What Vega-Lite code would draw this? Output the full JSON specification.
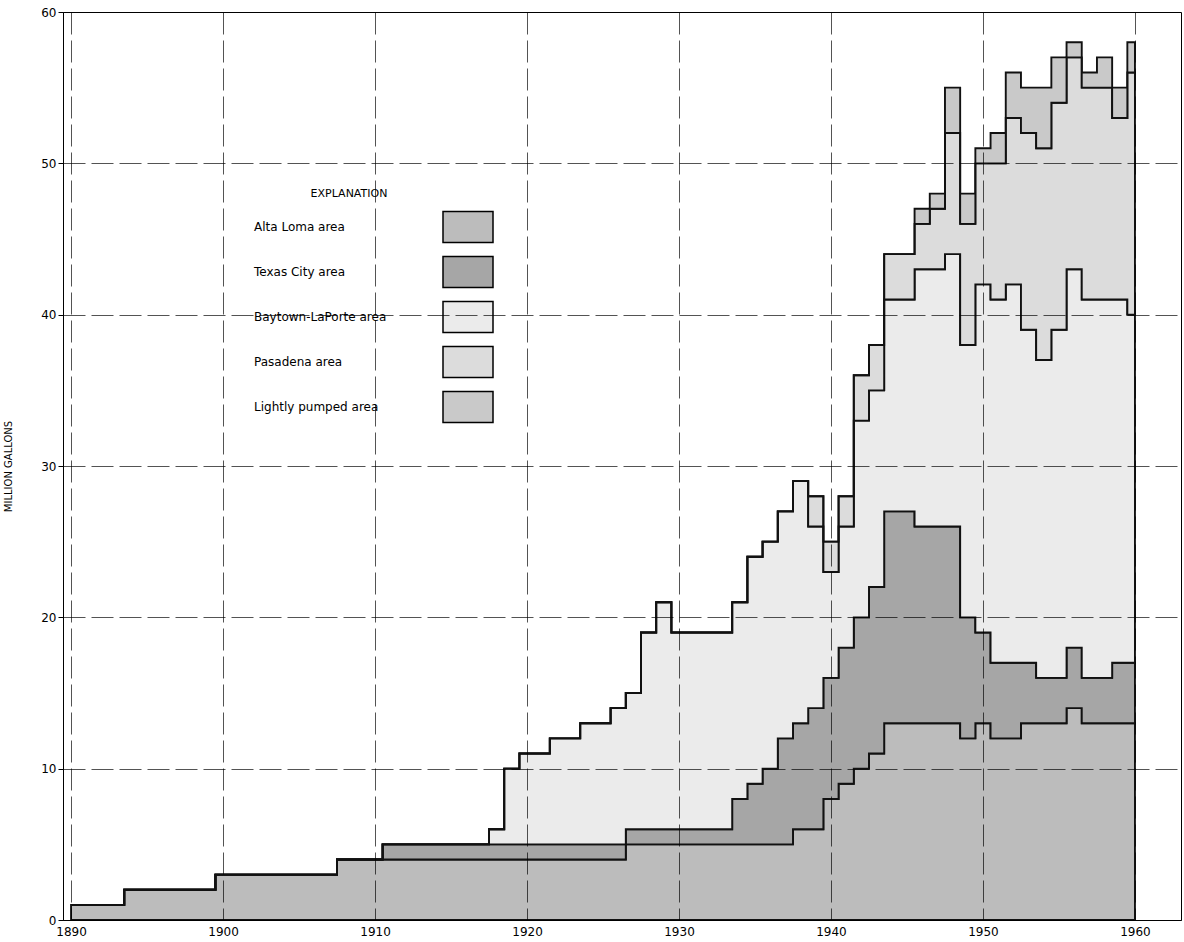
{
  "$schema": "https://vega.github.io/schema/vega-lite/v6.json",
  "width": 1118,
  "height": 908,
  "autosize": {"type": "none"},
  "padding": {"left": 63, "top": 12, "right": 3, "bottom": 22},
  "background": "white",
  "config": {
    "view": {"stroke": "#000", "strokeWidth": 1},
    "font": "DejaVu Sans"
  },
  "datasets": {
    "series": [
      {"area": "alta", "rank": 1, "label": "Alta Loma area"},
      {"area": "texas", "rank": 2, "label": "Texas City area"},
      {"area": "baytown", "rank": 3, "label": "Baytown-LaPorte area"},
      {"area": "pasadena", "rank": 4, "label": "Pasadena area"},
      {"area": "light", "rank": 5, "label": "Lightly pumped area"}
    ],
    "pumpage": [
      {"year": 1890, "alta": 1, "texas": 0, "baytown": 0, "pasadena": 0, "light": 0},
      {"year": 1891, "alta": 1, "texas": 0, "baytown": 0, "pasadena": 0, "light": 0},
      {"year": 1892, "alta": 1, "texas": 0, "baytown": 0, "pasadena": 0, "light": 0},
      {"year": 1893, "alta": 1, "texas": 0, "baytown": 0, "pasadena": 0, "light": 0},
      {"year": 1894, "alta": 2, "texas": 0, "baytown": 0, "pasadena": 0, "light": 0},
      {"year": 1895, "alta": 2, "texas": 0, "baytown": 0, "pasadena": 0, "light": 0},
      {"year": 1896, "alta": 2, "texas": 0, "baytown": 0, "pasadena": 0, "light": 0},
      {"year": 1897, "alta": 2, "texas": 0, "baytown": 0, "pasadena": 0, "light": 0},
      {"year": 1898, "alta": 2, "texas": 0, "baytown": 0, "pasadena": 0, "light": 0},
      {"year": 1899, "alta": 2, "texas": 0, "baytown": 0, "pasadena": 0, "light": 0},
      {"year": 1900, "alta": 3, "texas": 0, "baytown": 0, "pasadena": 0, "light": 0},
      {"year": 1901, "alta": 3, "texas": 0, "baytown": 0, "pasadena": 0, "light": 0},
      {"year": 1902, "alta": 3, "texas": 0, "baytown": 0, "pasadena": 0, "light": 0},
      {"year": 1903, "alta": 3, "texas": 0, "baytown": 0, "pasadena": 0, "light": 0},
      {"year": 1904, "alta": 3, "texas": 0, "baytown": 0, "pasadena": 0, "light": 0},
      {"year": 1905, "alta": 3, "texas": 0, "baytown": 0, "pasadena": 0, "light": 0},
      {"year": 1906, "alta": 3, "texas": 0, "baytown": 0, "pasadena": 0, "light": 0},
      {"year": 1907, "alta": 3, "texas": 0, "baytown": 0, "pasadena": 0, "light": 0},
      {"year": 1908, "alta": 4, "texas": 0, "baytown": 0, "pasadena": 0, "light": 0},
      {"year": 1909, "alta": 4, "texas": 0, "baytown": 0, "pasadena": 0, "light": 0},
      {"year": 1910, "alta": 4, "texas": 0, "baytown": 0, "pasadena": 0, "light": 0},
      {"year": 1911, "alta": 4, "texas": 1, "baytown": 0, "pasadena": 0, "light": 0},
      {"year": 1912, "alta": 4, "texas": 1, "baytown": 0, "pasadena": 0, "light": 0},
      {"year": 1913, "alta": 4, "texas": 1, "baytown": 0, "pasadena": 0, "light": 0},
      {"year": 1914, "alta": 4, "texas": 1, "baytown": 0, "pasadena": 0, "light": 0},
      {"year": 1915, "alta": 4, "texas": 1, "baytown": 0, "pasadena": 0, "light": 0},
      {"year": 1916, "alta": 4, "texas": 1, "baytown": 0, "pasadena": 0, "light": 0},
      {"year": 1917, "alta": 4, "texas": 1, "baytown": 0, "pasadena": 0, "light": 0},
      {"year": 1918, "alta": 4, "texas": 1, "baytown": 1, "pasadena": 0, "light": 0},
      {"year": 1919, "alta": 4, "texas": 1, "baytown": 5, "pasadena": 0, "light": 0},
      {"year": 1920, "alta": 4, "texas": 1, "baytown": 6, "pasadena": 0, "light": 0},
      {"year": 1921, "alta": 4, "texas": 1, "baytown": 6, "pasadena": 0, "light": 0},
      {"year": 1922, "alta": 4, "texas": 1, "baytown": 7, "pasadena": 0, "light": 0},
      {"year": 1923, "alta": 4, "texas": 1, "baytown": 7, "pasadena": 0, "light": 0},
      {"year": 1924, "alta": 4, "texas": 1, "baytown": 8, "pasadena": 0, "light": 0},
      {"year": 1925, "alta": 4, "texas": 1, "baytown": 8, "pasadena": 0, "light": 0},
      {"year": 1926, "alta": 4, "texas": 1, "baytown": 9, "pasadena": 0, "light": 0},
      {"year": 1927, "alta": 5, "texas": 1, "baytown": 9, "pasadena": 0, "light": 0},
      {"year": 1928, "alta": 5, "texas": 1, "baytown": 13, "pasadena": 0, "light": 0},
      {"year": 1929, "alta": 5, "texas": 1, "baytown": 15, "pasadena": 0, "light": 0},
      {"year": 1930, "alta": 5, "texas": 1, "baytown": 13, "pasadena": 0, "light": 0},
      {"year": 1931, "alta": 5, "texas": 1, "baytown": 13, "pasadena": 0, "light": 0},
      {"year": 1932, "alta": 5, "texas": 1, "baytown": 13, "pasadena": 0, "light": 0},
      {"year": 1933, "alta": 5, "texas": 1, "baytown": 13, "pasadena": 0, "light": 0},
      {"year": 1934, "alta": 5, "texas": 3, "baytown": 13, "pasadena": 0, "light": 0},
      {"year": 1935, "alta": 5, "texas": 4, "baytown": 15, "pasadena": 0, "light": 0},
      {"year": 1936, "alta": 5, "texas": 5, "baytown": 15, "pasadena": 0, "light": 0},
      {"year": 1937, "alta": 5, "texas": 7, "baytown": 15, "pasadena": 0, "light": 0},
      {"year": 1938, "alta": 6, "texas": 7, "baytown": 16, "pasadena": 0, "light": 0},
      {"year": 1939, "alta": 6, "texas": 8, "baytown": 12, "pasadena": 2, "light": 0},
      {"year": 1940, "alta": 8, "texas": 8, "baytown": 7, "pasadena": 2, "light": 0},
      {"year": 1941, "alta": 9, "texas": 9, "baytown": 8, "pasadena": 2, "light": 0},
      {"year": 1942, "alta": 10, "texas": 10, "baytown": 13, "pasadena": 3, "light": 0},
      {"year": 1943, "alta": 11, "texas": 11, "baytown": 13, "pasadena": 3, "light": 0},
      {"year": 1944, "alta": 13, "texas": 14, "baytown": 14, "pasadena": 3, "light": 0},
      {"year": 1945, "alta": 13, "texas": 14, "baytown": 14, "pasadena": 3, "light": 0},
      {"year": 1946, "alta": 13, "texas": 13, "baytown": 17, "pasadena": 3, "light": 1},
      {"year": 1947, "alta": 13, "texas": 13, "baytown": 17, "pasadena": 4, "light": 1},
      {"year": 1948, "alta": 13, "texas": 13, "baytown": 18, "pasadena": 8, "light": 3},
      {"year": 1949, "alta": 12, "texas": 8, "baytown": 18, "pasadena": 8, "light": 2},
      {"year": 1950, "alta": 13, "texas": 6, "baytown": 23, "pasadena": 8, "light": 1},
      {"year": 1951, "alta": 12, "texas": 5, "baytown": 24, "pasadena": 9, "light": 2},
      {"year": 1952, "alta": 12, "texas": 5, "baytown": 25, "pasadena": 11, "light": 3},
      {"year": 1953, "alta": 13, "texas": 4, "baytown": 22, "pasadena": 13, "light": 3},
      {"year": 1954, "alta": 13, "texas": 3, "baytown": 21, "pasadena": 14, "light": 4},
      {"year": 1955, "alta": 13, "texas": 3, "baytown": 23, "pasadena": 15, "light": 3},
      {"year": 1956, "alta": 14, "texas": 4, "baytown": 25, "pasadena": 14, "light": 1},
      {"year": 1957, "alta": 13, "texas": 3, "baytown": 25, "pasadena": 14, "light": 1},
      {"year": 1958, "alta": 13, "texas": 3, "baytown": 25, "pasadena": 14, "light": 2},
      {"year": 1959, "alta": 13, "texas": 4, "baytown": 24, "pasadena": 12, "light": 2},
      {"year": 1960, "alta": 13, "texas": 4, "baytown": 23, "pasadena": 16, "light": 2}
    ]
  },
  "data": {"name": "pumpage"},
  "transform": [
    {"fold": ["alta", "texas", "baytown", "pasadena", "light"], "as": ["area", "value"]},
    {"lookup": "area", "from": {"data": {"name": "series"}, "key": "area", "fields": ["rank", "label"]}}
  ],
  "mark": {"type": "area", "interpolate": "step", "stroke": "#111", "strokeWidth": 1.9, "strokeJoin": "miter"},
  "encoding": {
    "x": {
      "field": "year",
      "type": "quantitative",
      "scale": {"domain": [1889.47, 1963.03], "nice": false, "zero": false},
      "axis": {
        "title": null,
        "values": [1890, 1900, 1910, 1920, 1930, 1940, 1950, 1960],
        "format": "d",
        "grid": true,
        "gridColor": "#000",
        "gridDash": [22, 6],
        "gridWidth": 0.8,
        "gridOpacity": 0.85,
        "ticks": false,
        "labelPadding": 6,
        "labelFontSize": 12,
        "labelColor": "#000",
        "domainColor": "#000",
        "zindex": 1
      }
    },
    "y": {
      "field": "value",
      "type": "quantitative",
      "stack": "zero",
      "scale": {"domain": [0, 60], "nice": false},
      "axis": {
        "title": "MILLION GALLONS",
        "titleFontSize": 10,
        "titleFontWeight": "normal",
        "titleColor": "#000",
        "titlePadding": 27,
        "values": [0, 10, 20, 30, 40, 50, 60],
        "grid": true,
        "gridColor": "#000",
        "gridDash": [22, 6],
        "gridWidth": 0.8,
        "gridOpacity": 0.85,
        "tickSize": 5,
        "tickColor": "#000",
        "labelPadding": 2,
        "labelFontSize": 12,
        "labelColor": "#000",
        "domainColor": "#000",
        "zindex": 1
      }
    },
    "order": {"field": "rank", "type": "quantitative", "sort": "ascending"},
    "color": {
      "field": "label",
      "type": "nominal",
      "sort": ["Alta Loma area", "Texas City area", "Baytown-LaPorte area", "Pasadena area", "Lightly pumped area"],
      "scale": {
        "domain": ["Alta Loma area", "Texas City area", "Baytown-LaPorte area", "Pasadena area", "Lightly pumped area"],
        "range": ["#bcbcbc", "#a6a6a6", "#ebebeb", "#dcdcdc", "#c9c9c9"]
      },
      "legend": {
        "orient": "none",
        "legendX": 248,
        "legendY": 176,
        "title": "EXPLANATION",
        "titleFontSize": 11,
        "titleFontWeight": "normal",
        "titleColor": "#000",
        "titleAnchor": "middle",
        "titlePadding": 2,
        "symbolType": "M-1,-0.62H1V0.62H-1Z",
        "symbolSize": 2500,
        "symbolStrokeColor": "#000",
        "symbolStrokeWidth": 1.5,
        "symbolOpacity": 1,
        "labelOffset": -240,
        "labelAlign": "left",
        "labelFontSize": 12,
        "labelColor": "#000",
        "rowPadding": -4.7,
        "padding": 0,
        "encode": {"title": {"update": {"dx": {"value": -120}}}}
      }
    }
  }
}
